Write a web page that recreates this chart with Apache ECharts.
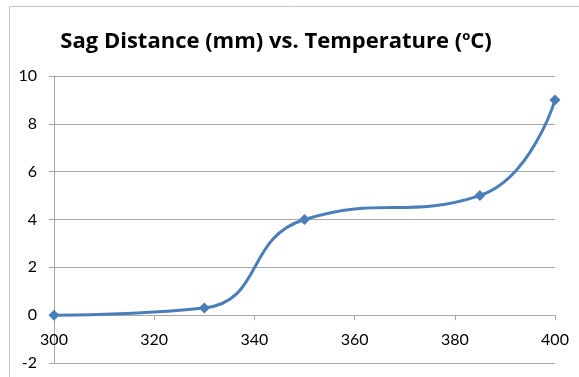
<!DOCTYPE html>
<html>
<head>
<meta charset="utf-8">
<script src="https://cdn.jsdelivr.net/npm/echarts@6/dist/echarts.min.js"></script>
<style>
  html, body { margin: 0; padding: 0; background: #fff; }
  #main { width: 579px; height: 377px; }
</style>
</head>
<body>
<div id="main"></div>
<script>
// temperature (oC) and sag distance (mm)
const temperature = [300, 330, 350, 385, 400];
const sagDistance = [0, 0.3, 4, 5, 9];
const xTicks = [300, 320, 340, 360, 380, 400];
const yTicks = [-2, 0, 2, 4, 6, 8, 10];

const chartDom = document.getElementById('main');
const myChart = echarts.init(chartDom);

const points = temperature.map((t, i) => [t, sagDistance[i]]);

const option = {
  animation: false,
  textStyle: { fontFamily: 'Lato' },
  title: {
    text: '{t|Sag Distance (mm) vs. Temperature (}{s|o}{t|C)}',
    left: 271,
    textAlign: 'center',
    top: 25,
    textStyle: {
      rich: {
        t: { fontFamily: 'Open Sans', fontWeight: 'bold', fontSize: 22, color: '#000' },
        s: { fontFamily: 'Open Sans', fontWeight: 'bold', fontSize: 13, color: '#000', verticalAlign: 'top', padding: [0, 0, 10, 0] }
      }
    }
  },
  graphic: [
    {
      type: 'rect',
      shape: { x: 9.5, y: 6.5, width: 700, height: 500 },
      style: { fill: 'none', stroke: '#c8c8c8', lineWidth: 1 },
      silent: true
    }
  ],
  grid: { left: 54, right: 24, top: 76, bottom: 14, outerBoundsMode: 'none', containLabel: false },
  xAxis: {
    type: 'value',
    min: xTicks[0],
    max: xTicks[xTicks.length - 1],
    interval: 20,
    offset: 0,
    axisLine: { onZero: false, lineStyle: { color: '#a6a6a6' } },
    axisTick: { show: true, length: 5, lineStyle: { color: '#a6a6a6' } },
    axisLabel: { color: '#000', fontSize: 16, margin: 17 },
    splitLine: { show: false }
  },
  yAxis: {
    type: 'value',
    min: yTicks[0],
    max: yTicks[yTicks.length - 1],
    interval: 2,
    axisLine: { show: true, onZero: false, lineStyle: { color: '#a6a6a6' } },
    axisTick: { show: true, length: 5, lineStyle: { color: '#a6a6a6' } },
    axisLabel: { color: '#000', fontSize: 16, margin: 17 },
    splitLine: { show: true, lineStyle: { color: '#a6a6a6' } }
  },
  series: [
    {
      name: 'Sag Distance',
      type: 'line',
      data: points,
      smooth: 0.5,
      symbol: 'diamond',
      symbolSize: 11,
      itemStyle: { color: '#4a7ebb' },
      lineStyle: { color: '#4a7ebb', width: 3 }
    }
  ]
};

myChart.setOption(option);

// move the x axis up so it crosses the y axis at 0 (like the Excel chart)
const zeroY = myChart.convertToPixel({ yAxisIndex: 0 }, 0);
const bottomY = myChart.convertToPixel({ yAxisIndex: 0 }, yTicks[0]);
myChart.setOption({ xAxis: { offset: zeroY - bottomY } });
</script>
</body>
</html>
